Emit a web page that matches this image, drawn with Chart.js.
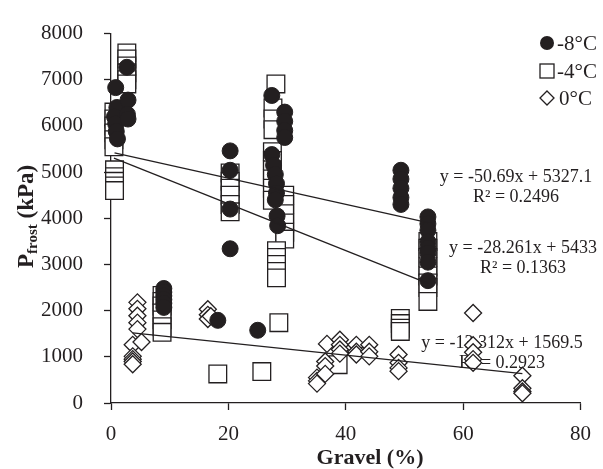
<!DOCTYPE html>
<html>
<head>
<meta charset="utf-8">
<script src="https://cdn.jsdelivr.net/npm/chart.js@4.4.0/dist/chart.umd.min.js"></script>
<style>
  body { margin: 0; background: #fff; }
  #chart { display: block; }
</style>
</head>
<body>
<canvas id="chart" width="603" height="469"></canvas>
<script>
// --- dados ---
const seriesNames = ['-8°C', '-4°C', '0°C'];
const xTicks = [0, 20, 40, 60, 80];
const yTicks = [0, 1000, 2000, 3000, 4000, 5000, 6000, 7000, 8000];

// -8°C (círculos)
const minus8X = [0.8, 1.0, 0.6, 0.8, 0.9, 1.1, 2.7, 2.9, 2.8, 2.9,
  9.0, 9.0, 9.0, 9.0, 9.0, 9.0,
  20.3, 20.3, 20.3, 20.3, 18.2, 25.0, 27.4,
  29.6, 29.6, 29.6, 29.6,
  27.4, 27.7, 28.0, 28.2, 28.2, 28.0, 28.3, 28.4,
  49.4, 49.4, 49.4, 49.4, 49.4,
  54, 54, 54, 54, 54, 54, 54, 54];
const minus8Y = [6830, 6400, 6200, 6050, 5880, 5720, 7270, 6560, 6250, 6150,
  2480, 2400, 2320, 2240, 2160, 2070,
  5460, 5040, 4200, 3340, 1790, 1575, 6660,
  6300, 6100, 5900, 5750,
  5380, 5150, 4950, 4750, 4550, 4400, 4050, 3840,
  5040, 4850, 4650, 4450, 4300,
  4030, 3880, 3740, 3490, 3350, 3250, 3050, 2650];

// -4°C (quadrados)
const minus4X = [0.5, 0.5, 0.5, 0.5, 0.5, 0.5, 0.6, 0.6, 0.6, 0.6, 0.6,
  2.7, 2.7, 2.7, 2.7, 2.7, 2.7,
  8.7, 8.7, 8.7, 8.7, 8.7, 8.7, 8.7,
  18.2, 25.7,
  20.3, 20.3, 20.3, 20.3, 20.3, 20.3,
  28.1, 27.6, 27.6, 27.6, 27.5, 27.5, 27.5, 27.5, 27.5, 27.5,
  29.6, 29.6, 29.6, 29.6, 29.6, 29.6,
  28.2, 28.2, 28.2, 28.2, 28.2,
  28.6, 38.7,
  49.3, 49.3, 49.3, 49.3,
  54, 54, 54, 54, 54, 54, 54, 54];
const minus4Y = [6300, 6150, 6000, 5850, 5700, 5550, 5050, 4900, 4800, 4700, 4600,
  7580, 7450, 7300, 7150, 7000, 6910,
  2330, 2200, 2100, 1950, 1800, 1650, 1530,
  630, 680,
  4980, 4800, 4650, 4500, 4300, 4140,
  6910, 6390, 6150, 5920, 5440, 5250, 5050, 4850, 4650, 4390,
  4500, 4300, 4100, 3900, 3700, 3550,
  3300, 3150, 3000, 2850, 2710,
  1740, 830,
  1830, 1720, 1620, 1550,
  3500, 3350, 3150, 2950, 2750, 2600, 2500, 2200];

// 0°C (losangos)
const zeroX = [4.5, 4.5, 4.5, 4.5, 4.5, 3.7, 5.2,
  3.7, 3.7, 3.7, 3.7,
  16.5, 16.5, 16.5, 17.0,
  35.1, 35.1, 35.1, 36.5, 36.5, 36.5, 36.8,
  39.0, 39.0, 39.0, 39.0,
  41.8, 41.8, 41.8, 44.0, 44.0, 44.0,
  49.0, 49.0, 49.0, 49.0,
  61.7, 61.7, 61.7, 61.7, 61.7,
  70.1, 70.1, 70.1, 70.1];
const zeroY = [2180, 2040, 1890, 1740, 1600, 1260, 1320,
  1010, 950, 900, 840,
  2030, 1910, 1820, 1880,
  550, 480, 420, 900, 800, 630, 1280,
  1370, 1260, 1160, 1070,
  1260, 1110, 1050, 1260, 1110, 1010,
  1050, 870, 760, 690,
  1950, 1250, 1100, 950, 870,
  590, 320, 250, 210];

// linhas de tendência (equações mostradas no gráfico)
const trendSlope = [-28.261, -50.69, -13.312];
const trendIntercept = [5433, 5327.1, 1569.5];
const trendRange = [[0.6, 54], [0.5, 54], [3.7, 70.1]];
const trendEq = ['y = -28.261x + 5433', 'y = -50.69x + 5327.1', 'y = -13.312x + 1569.5'];
const trendR2 = ['R² = 0.1363', 'R² = 0.2496', 'R² = 0.2923'];

// --- estilo ---
const ink = '#231f20';
const serif = '"Liberation Serif", "Times New Roman", serif';

const toPoints = (xs, ys) => xs.map((x, i) => ({ x, y: ys[i] }));
const trendPoints = (i) => trendRange[i].map(x => ({ x, y: trendSlope[i] * x + trendIntercept[i] }));

// posição das etiquetas das equações (centro, em pixels)
const eqPos = [[523, 248], [516, 177], [502, 343]];

const textPlugin = {
  id: 'textos',
  beforeDatasetsDraw(chart) {
    const ctx = chart.ctx;
    ctx.save();
    ctx.fillStyle = ink;
    ctx.font = '18px ' + serif;
    ctx.textAlign = 'center';
    ctx.textBaseline = 'middle';
    eqPos.forEach(([cx, cy], i) => {
      ctx.fillText(trendEq[i], cx, cy);
      ctx.fillText(trendR2[i], cx, cy + 20);
    });
    ctx.restore();
  },
  afterDraw(chart) {
    const ctx = chart.ctx;
    ctx.save();
    ctx.fillStyle = ink;
    ctx.strokeStyle = ink;
    ctx.lineWidth = 1.3;

    // título do eixo x
    ctx.font = 'bold 22px ' + serif;
    ctx.textAlign = 'center';
    ctx.textBaseline = 'middle';
    ctx.fillText('Gravel (%)', 370, 458);

    // título do eixo y com subscrito
    ctx.translate(25, 268);
    ctx.rotate(-Math.PI / 2);
    ctx.textAlign = 'left';
    ctx.textBaseline = 'alphabetic';
    let x = 0;
    ctx.font = 'bold 23px ' + serif;
    ctx.fillText('P', x, 8);
    x += ctx.measureText('P').width;
    ctx.font = 'bold 15px ' + serif;
    ctx.fillText('frost', x, 12);
    x += ctx.measureText('frost').width;
    ctx.font = 'bold 23px ' + serif;
    ctx.fillText(' (kPa)', x, 8);
    ctx.setTransform(1, 0, 0, 1, 0, 0);

    // legenda
    const lx = 547;
    const rows = [43, 71, 98];
    ctx.font = '21px ' + serif;
    ctx.textBaseline = 'middle';
    ctx.textAlign = 'left';
    ctx.beginPath();
    ctx.arc(lx, rows[0], 7, 0, Math.PI * 2);
    ctx.fill();
    ctx.fillStyle = '#fff';
    ctx.fillRect(lx - 7, rows[1] - 7, 14, 14);
    ctx.strokeRect(lx - 7, rows[1] - 7, 14, 14);
    ctx.beginPath();
    ctx.moveTo(lx, rows[2] - 7);
    ctx.lineTo(lx + 7, rows[2]);
    ctx.lineTo(lx, rows[2] + 7);
    ctx.lineTo(lx - 7, rows[2]);
    ctx.closePath();
    ctx.fill();
    ctx.stroke();
    ctx.fillStyle = ink;
    ctx.fillText(seriesNames[0], 557, rows[0] + 1);
    ctx.fillText(seriesNames[1], 557, rows[1] + 1);
    ctx.fillText(seriesNames[2], 559, rows[2] + 1);
    ctx.restore();
  }
};

const trendDataset = (i) => ({
  type: 'line',
  data: trendPoints(i),
  borderColor: ink,
  borderWidth: 1.3,
  pointRadius: 0,
  fill: false,
  order: 0,
  clip: false
});

new Chart(document.getElementById('chart'), {
  type: 'scatter',
  data: {
    datasets: [
      trendDataset(0),
      trendDataset(1),
      trendDataset(2),
      {
        label: seriesNames[0],
        data: toPoints(minus8X, minus8Y),
        pointStyle: 'circle',
        pointRadius: 8,
        backgroundColor: ink,
        borderColor: ink,
        borderWidth: 1,
        order: 1,
        clip: false
      },
      {
        label: seriesNames[2],
        data: toPoints(zeroX, zeroY),
        pointStyle: 'rectRot',
        pointRadius: 8.5,
        backgroundColor: '#fff',
        borderColor: ink,
        borderWidth: 1.3,
        order: 2,
        clip: false
      },
      {
        label: seriesNames[1],
        data: toPoints(minus4X, minus4Y),
        pointStyle: 'rect',
        pointRadius: 12.5,
        backgroundColor: '#fff',
        borderColor: ink,
        borderWidth: 1.3,
        order: 3,
        clip: false
      }
    ]
  },
  options: {
    responsive: false,
    animation: false,
    devicePixelRatio: 1,
    layout: { padding: { left: 0, top: 22, right: 16, bottom: 0 } },
    plugins: { legend: { display: false }, tooltip: { enabled: false } },
    scales: {
      x: {
        type: 'linear',
        min: 0,
        max: 80,
        afterBuildTicks: (s) => { s.ticks = xTicks.map(v => ({ value: v })); },
        afterFit: (s) => { s.height = 66; },
        ticks: { color: ink, font: { family: serif, size: 21 }, padding: 12, maxRotation: 0, callback: (v) => String(v) },
        grid: { drawOnChartArea: false, tickLength: 7, tickColor: ink, tickWidth: 1.3 },
        border: { color: ink, width: 1.3 }
      },
      y: {
        type: 'linear',
        min: 0,
        max: 8000,
        afterBuildTicks: (s) => { s.ticks = yTicks.map(v => ({ value: v })); },
        afterFit: (s) => { s.width = 111; },
        ticks: { color: ink, font: { family: serif, size: 21 }, padding: 21, callback: (v) => String(v) },
        grid: { drawOnChartArea: false, tickLength: 7, tickColor: ink, tickWidth: 1.3 },
        border: { color: ink, width: 1.3 }
      }
    }
  },
  plugins: [textPlugin]
});
</script>
</body>
</html>
